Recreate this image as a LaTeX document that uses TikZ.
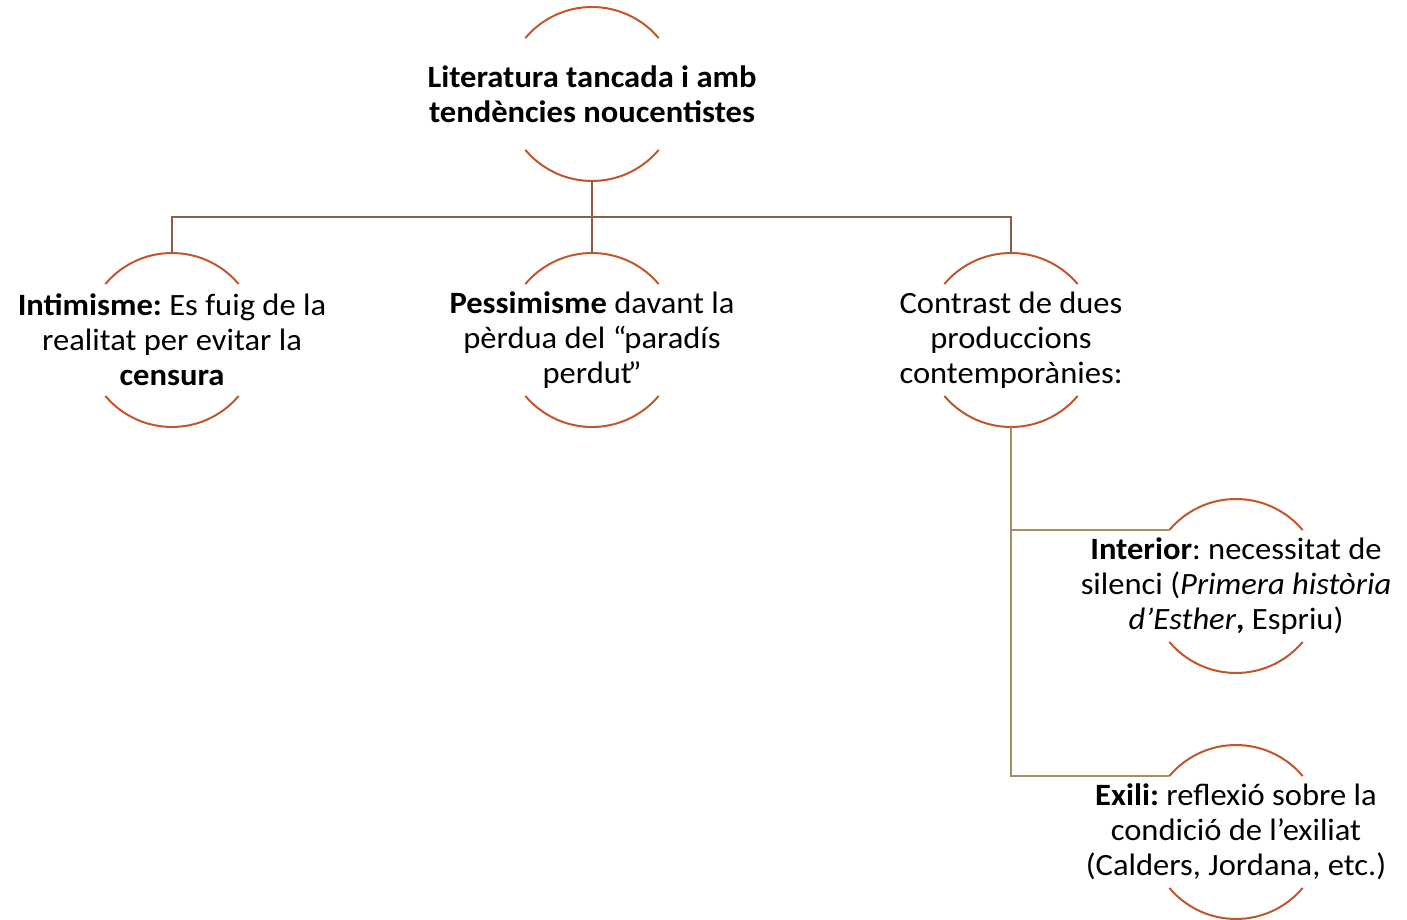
\documentclass[tikz,border=0pt]{standalone}
\usepackage{fontspec}
\setmainfont{Carlito}[FakeStretch=1.05]
\frenchspacing
\usetikzlibrary{calc}
\definecolor{arccol}{HTML}{C0562A}
\definecolor{buscol}{HTML}{8A5C4C}
\definecolor{subcol}{HTML}{A58D5C}
\tikzset{
	ringstyle/.style={circle, draw=none, inner sep=0pt, outer sep=0pt, minimum size=174pt},
	textstyle/.style={align=center, font=\fontsize{31}{35}\selectfont, inner sep=0pt},
	arcstyle/.style={draw=arccol, line width=2pt},
	busstyle/.style={draw=buscol, line width=2.2pt},
	substyle/.style={draw=subcol, line width=2.2pt}
}

\begin{document}
\begin{tikzpicture}[x=1pt, y=1pt]
	\useasboundingbox (0,0) rectangle (1407,919);
	\node[ringstyle] (lit) at (592,825) {};
	\node[ringstyle] (intim) at (172,579) {};
	\node[ringstyle] (pess) at (592,579) {};
	\node[ringstyle] (contr) at (1011,579) {};
	\node[ringstyle] (inter) at (1236,333) {};
	\node[ringstyle] (exili) at (1236,87) {};
	\foreach \n in {lit,intim,pess,contr,inter,exili} {
		\draw[arcstyle] (\n.40) arc[start angle=40, end angle=140, radius=87];
		\draw[arcstyle] (\n.220) arc[start angle=220, end angle=320, radius=87];
	}
	\node[textstyle] at (lit) {\textbf{Literatura tancada i amb}\\\textbf{tendències noucentistes}};
	\node[textstyle] at (intim) {\textbf{Intimisme:} Es fuig de la\\realitat per evitar la\\\textbf{censura}};
	\node[textstyle] at (pess) {\textbf{Pessimisme} davant la\\pèrdua del “\kern-2pt paradís\\perdut\kern-4pt”};
	\node[textstyle] at (contr) {Contrast de dues\\produccions\\contemporànies:};
	\node[textstyle] at (inter) {\textbf{Interior}: necessitat de\\silenci (\textit{Primera història}\\\textit{d’Esther}\textbf{,} Espriu)};
	\node[textstyle] at (exili) {\textbf{Exili:} reflexió sobre la\\condició de l’exiliat\\(Calders, Jordana, etc.)};
	\draw[busstyle] (lit.south) -- (pess.north);
	\draw[busstyle] (lit.south) -- ++(0,-36) -| (intim.north);
	\draw[busstyle] (lit.south) -- ++(0,-36) -| (contr.north);
	\draw[substyle] (contr.south) |- (inter.140);
	\draw[substyle] (contr.south) |- (exili.140);
\end{tikzpicture}
\end{document}
